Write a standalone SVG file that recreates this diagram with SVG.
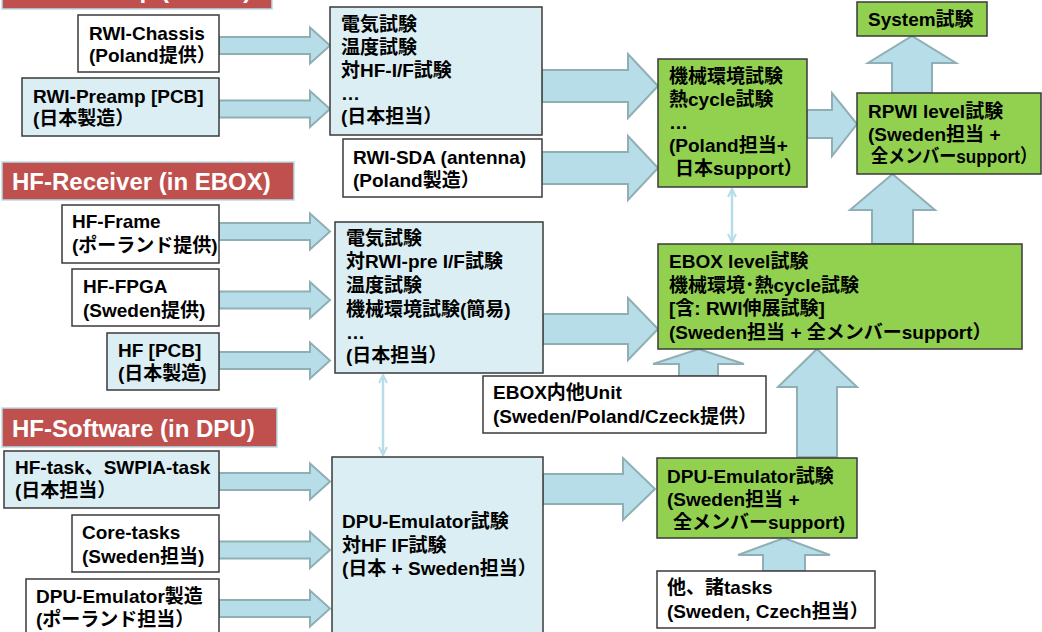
<svg xmlns="http://www.w3.org/2000/svg" width="1042" height="632" viewBox="0 0 1042 632">
  <defs>
    <style>
      .box { stroke: #3a3a3a; stroke-width: 1.5; }
      .white { fill: #ffffff; }
      .blue { fill: #DBEEF3; }
      .green { fill: #92D050; }
      .label { fill: #C0504D; stroke: #B7DEE8; stroke-width: 1.5; }
      .t { font-family: "Liberation Sans", "Noto Sans CJK JP", sans-serif; font-weight: bold; font-size: 19px; fill: #000; }
      .lt { font-family: "Liberation Sans", "Noto Sans CJK JP", sans-serif; font-weight: bold; font-size: 24px; fill: #ffffff; }
      .blk { fill: #B7DEE8; stroke: #8FAFB4; stroke-width: 2; stroke-linejoin: miter; }
      .thin { stroke: #B7DEE8; stroke-width: 2.5; fill: none; }
    </style>
    <marker id="vhead" viewBox="0 0 10 10" refX="9" refY="5" markerWidth="10" markerHeight="10" markerUnits="userSpaceOnUse" orient="auto-start-reverse">
      <path d="M1,1 L9,5 L1,9" fill="none" stroke="#B7DEE8" stroke-width="2"/>
    </marker>
  </defs>

  <rect width="1042" height="632" fill="#ffffff"/>

  <!-- section headers -->
  <g id="hdr-preamp">
    <rect class="label" x="2" y="-30" width="270" height="39"/>
    <text class="lt" x="12" y="-2">RWI-Preamp (in RWI)</text>
  </g>
  <g id="hdr-receiver">
    <rect class="label" x="2" y="162" width="292" height="38"/>
    <text class="lt" x="12" y="190">HF-Receiver (in EBOX)</text>
  </g>
  <g id="hdr-software">
    <rect class="label" x="2" y="408" width="275" height="39"/>
    <text class="lt" x="12" y="437">HF-Software (in DPU)</text>
  </g>

  <!-- connectors -->
  <g id="connectors">
    <!-- inputs into the test boxes -->
    <polygon class="blk" points="219,37 310,37 310,27.5 330,45.5 310,63.5 310,54 219,54"/>
    <polygon class="blk" points="219,100.5 310,100.5 310,91 330,109 310,127 310,117.5 219,117.5"/>
    <polygon class="blk" points="219,223 310,223 310,213.5 330,231.5 310,249.5 310,240 219,240"/>
    <polygon class="blk" points="219,291.5 310,291.5 310,282 330,300 310,318 310,308.5 219,308.5"/>
    <polygon class="blk" points="219,352 310,352 310,342.5 330,360.5 310,378.5 310,369 219,369"/>
    <polygon class="blk" points="219,473 310,473 310,463.5 330,481.5 310,499.5 310,490 219,490"/>
    <polygon class="blk" points="219,541.5 310,541.5 310,532 330,550 310,568 310,558.5 219,558.5"/>
    <polygon class="blk" points="219,600 310,600 310,590.5 330,608.5 310,626.5 310,617 219,617"/>
    <!-- large flows to the right -->
    <polygon class="blk" points="542,70 628,70 628,54 658,86 628,118 628,102 542,102"/>
    <polygon class="blk" points="542,152 628,152 628,136 658,168 628,200 628,184 542,184"/>
    <polygon class="blk" points="543,314 628,314 628,298 658,329 628,360 628,344 543,344"/>
    <polygon class="blk" points="543,474 623,474 623,458 655,489 623,520 623,504 543,504"/>
    <polygon class="blk" points="807,110 832,110 832,93 857,124 832,156 832,138 807,138"/>
    <!-- upward flows -->
    <polygon class="blk" points="892,93 892,63 868,63 912,36 956,63 932,63 932,93"/>
    <polygon class="blk" points="872,244 872,210 850,210 892.5,174 935,210 913,210 913,244"/>
    <polygon class="blk" points="679,376 679,364 653,364 698.5,349 744,364 718,364 718,376"/>
    <polygon class="blk" points="797,457 797,387 778,387 817,349 857,387 837,387 837,457"/>
    <polygon class="blk" points="763,571 763,555 738,555 784,538 830,555 805,555 805,571"/>
    <!-- interface links -->
    <line class="thin" x1="732" y1="189" x2="732" y2="242" marker-start="url(#vhead)" marker-end="url(#vhead)"/>
    <line class="thin" x1="383" y1="375" x2="383" y2="455" marker-start="url(#vhead)" marker-end="url(#vhead)"/>
  </g>

  <!-- RWI preamp branch -->
  <g id="rwi-chassis">
    <rect class="box white" x="78" y="15" width="141" height="57"/>
    <text class="t" x="89" y="40">RWI-Chassis</text>
    <text class="t" x="89" y="62">(Poland提供）</text>
  </g>
  <g id="rwi-preamp">
    <rect class="box blue" x="22" y="78" width="197" height="58"/>
    <text class="t" x="33" y="103">RWI-Preamp [PCB]</text>
    <text class="t" x="33" y="125">(日本製造）</text>
  </g>
  <g id="preamp-tests">
    <rect class="box blue" x="330" y="7" width="212" height="128"/>
    <text class="t" x="341" y="31">電気試験</text>
    <text class="t" x="341" y="54">温度試験</text>
    <text class="t" x="341" y="77">対HF-I/F試験</text>
    <text class="t" x="341" y="100">…</text>
    <text class="t" x="341" y="123">(日本担当）</text>
  </g>
  <g id="rwi-sda">
    <rect class="box white" x="343" y="139" width="199" height="58"/>
    <text class="t" x="353" y="164">RWI-SDA (antenna)</text>
    <text class="t" x="353" y="187">(Poland製造）</text>
  </g>
  <g id="rwi-env-tests">
    <rect class="box green" x="658" y="59" width="149" height="128"/>
    <text class="t" x="669" y="83">機械環境試験</text>
    <text class="t" x="669" y="106">熱cycle試験</text>
    <text class="t" x="669" y="129">…</text>
    <text class="t" x="669" y="152">(Poland担当+</text>
    <text class="t" x="675" y="175">日本support）</text>
  </g>
  <g id="system-test">
    <rect class="box green" x="857" y="2" width="130" height="34"/>
    <text class="t" x="868" y="26">System試験</text>
  </g>
  <g id="rpwi-level">
    <rect class="box green" x="857" y="93" width="184" height="81"/>
    <text class="t" x="868" y="118">RPWI level試験</text>
    <text class="t" x="868" y="141">(Sweden担当 +</text>
    <text class="t" x="871" y="163" textLength="166" lengthAdjust="spacingAndGlyphs">全メンバーsupport）</text>
  </g>

  <!-- HF receiver branch -->
  <g id="hf-frame">
    <rect class="box white" x="62" y="205" width="157" height="58"/>
    <text class="t" x="72" y="228">HF-Frame</text>
    <text class="t" x="72" y="252">(ポーランド提供)</text>
  </g>
  <g id="hf-fpga">
    <rect class="box white" x="72" y="269" width="147" height="57"/>
    <text class="t" x="83" y="293">HF-FPGA</text>
    <text class="t" x="83" y="317">(Sweden提供)</text>
  </g>
  <g id="hf-pcb">
    <rect class="box blue" x="107" y="333" width="112" height="57"/>
    <text class="t" x="118" y="357">HF [PCB]</text>
    <text class="t" x="118" y="380">(日本製造)</text>
  </g>
  <g id="hf-tests">
    <rect class="box blue" x="335" y="222" width="208" height="151"/>
    <text class="t" x="346" y="245">電気試験</text>
    <text class="t" x="346" y="268">対RWI-pre I/F試験</text>
    <text class="t" x="346" y="292">温度試験</text>
    <text class="t" x="346" y="316">機械環境試験(簡易)</text>
    <text class="t" x="346" y="339">…</text>
    <text class="t" x="346" y="362">(日本担当）</text>
  </g>
  <g id="ebox-level">
    <rect class="box green" x="658" y="244" width="364" height="105"/>
    <text class="t" x="669" y="268">EBOX level試験</text>
    <text class="t" x="669" y="292">機械環境･熱cycle試験</text>
    <text class="t" x="669" y="315">[含: RWI伸展試験]</text>
    <text class="t" x="669" y="339">(Sweden担当 + 全メンバーsupport）</text>
  </g>
  <g id="ebox-units">
    <rect class="box white" x="483" y="376" width="283" height="57"/>
    <text class="t" x="493" y="399">EBOX内他Unit</text>
    <text class="t" x="493" y="423">(Sweden/Poland/Czeck提供）</text>
  </g>

  <!-- HF software branch -->
  <g id="hf-task">
    <rect class="box blue" x="4" y="451" width="215" height="57"/>
    <text class="t" x="15" y="474">HF-task、SWPIA-task</text>
    <text class="t" x="15" y="497">(日本担当）</text>
  </g>
  <g id="core-tasks">
    <rect class="box white" x="72" y="515" width="147" height="57"/>
    <text class="t" x="82" y="539">Core-tasks</text>
    <text class="t" x="82" y="563">(Sweden担当)</text>
  </g>
  <g id="dpu-emu-build">
    <rect class="box white" x="26" y="579" width="193" height="70"/>
    <text class="t" x="36" y="603">DPU-Emulator製造</text>
    <text class="t" x="36" y="626">(ポーランド担当）</text>
  </g>
  <g id="dpu-emu-tests">
    <rect class="box blue" x="332" y="457" width="211" height="190"/>
    <text class="t" x="342" y="528">DPU-Emulator試験</text>
    <text class="t" x="342" y="552">対HF IF試験</text>
    <text class="t" x="342" y="575">(日本 + Sweden担当）</text>
  </g>
  <g id="dpu-emu-level">
    <rect class="box green" x="657" y="458" width="200" height="80"/>
    <text class="t" x="667" y="483">DPU-Emulator試験</text>
    <text class="t" x="667" y="506">(Sweden担当 +</text>
    <text class="t" x="673" y="529">全メンバーsupport)</text>
  </g>
  <g id="other-tasks">
    <rect class="box white" x="657" y="571" width="218" height="57"/>
    <text class="t" x="667" y="594">他、諸tasks</text>
    <text class="t" x="667" y="618">(Sweden, Czech担当）</text>
  </g>
</svg>
